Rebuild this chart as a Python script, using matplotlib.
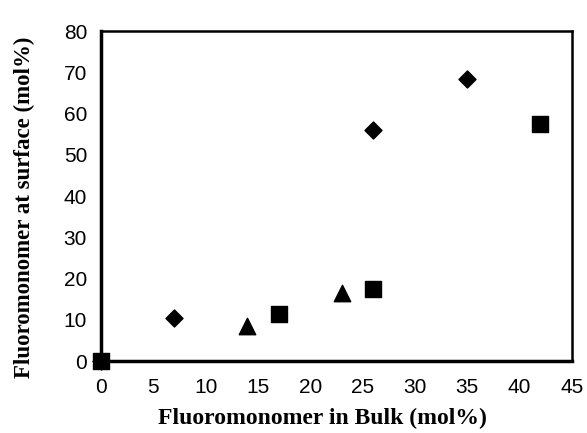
import numpy as np
import matplotlib
matplotlib.use('Agg')
import matplotlib.pyplot as plt

# data
diamond_x = [0, 7, 26, 35]
diamond_y = [0, 10.5, 56, 68.5]
square_x = [0, 17, 26, 42]
square_y = [0, 11.5, 17.5, 57.5]
triangle_x = [14, 23]
triangle_y = [8.5, 16.5]

xticks = np.arange(0, 46, 5)
yticks = np.arange(0, 81, 10)

fig = plt.figure(figsize=(5.87, 4.33), dpi=100)
ax = fig.add_axes([0.172, 0.166, 0.802, 0.762])

ax.scatter(diamond_x, diamond_y, marker='D', s=75, color='black', zorder=3, clip_on=False)
ax.scatter(square_x, square_y, marker='s', s=120, color='black', zorder=3, clip_on=False)
ax.scatter(triangle_x, triangle_y, marker='^', s=140, color='black', zorder=3, clip_on=False)

ax.set_xlim(0, 45)
ax.set_ylim(0, 80)
ax.set_xticks(xticks)
ax.set_yticks(yticks)
ax.tick_params(length=0, labelsize=15)
ax.tick_params(axis='x', pad=12)
ax.tick_params(axis='y', pad=10)
for lab in ax.get_xticklabels() + ax.get_yticklabels():
    lab.set_fontfamily('Liberation Sans')

ax.spines['left'].set_linewidth(2.5)
ax.spines['bottom'].set_linewidth(2.5)
ax.spines['top'].set_linewidth(1.8)
ax.spines['right'].set_linewidth(1.8)

ax.set_xlabel('Fluoromonomer in Bulk (mol%)', fontfamily='Liberation Serif',
              fontweight='bold', fontsize=17)
ax.set_ylabel('Fluoromonomer at surface (mol%)', fontfamily='Liberation Serif',
              fontweight='bold', fontsize=16.5)
# labels sit a bit off-centre in the original
ax.xaxis.set_label_coords(0.471, -0.142)
ax.yaxis.set_label_coords(-0.14, 0.467)

fig.savefig('out.png', dpi=100)
